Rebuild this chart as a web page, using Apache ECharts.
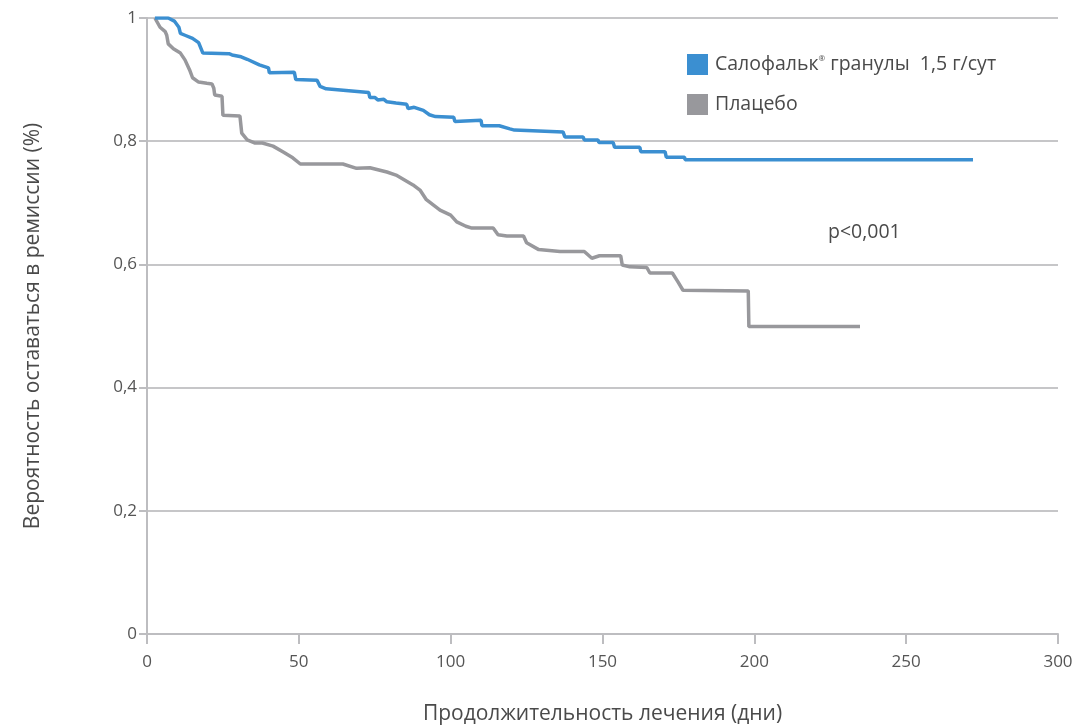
<!DOCTYPE html>
<html>
<head>
<meta charset="utf-8">
<script src="https://cdn.jsdelivr.net/npm/echarts@6/dist/echarts.min.js"></script>
<style>
  html, body { margin: 0; padding: 0; background: #fff; }
  #chart { width: 1079px; height: 727px; }
</style>
</head>
<body>
<div id="chart"></div>
<script>
// --- Datos: [día, probabilidad] ---
const salofalkData = [
    [2.6, 1.0], [7, 1.0], [9, 0.995], [10.5, 0.985], [11, 0.975], [12.5, 0.972], [15, 0.967],
    [17, 0.96], [18.4, 0.943], [27, 0.942], [28, 0.94], [31, 0.937], [33, 0.933], [37, 0.924],
    [40, 0.919], [40.3, 0.911], [48.5, 0.912], [49, 0.9], [56, 0.899], [57, 0.889], [59, 0.885],
    [73, 0.879], [73.4, 0.871], [75, 0.871], [76, 0.867], [78, 0.868], [79, 0.864], [82, 0.862],
    [85.5, 0.86], [86, 0.853], [88, 0.855], [91, 0.85], [93, 0.843], [95, 0.84], [101, 0.839],
    [101.4, 0.832], [110, 0.834], [110.3, 0.825], [116, 0.825], [119.5, 0.82], [121, 0.818],
    [137, 0.815], [137.6, 0.807], [143.6, 0.807], [144, 0.802], [148.5, 0.802], [148.8, 0.798],
    [153.5, 0.798], [154, 0.79], [162.3, 0.79], [162.6, 0.783], [170.6, 0.783], [171, 0.774],
    [177, 0.774], [177.2, 0.77], [272, 0.77]
];
const placeboData = [
    [2.6, 1.0], [4.3, 0.985], [6, 0.978], [6.5, 0.972], [7, 0.958], [8.7, 0.95], [11, 0.943],
    [12.5, 0.932], [14, 0.916], [15, 0.903], [17, 0.896], [19.7, 0.894], [21.4, 0.893], [22, 0.886],
    [22.3, 0.875], [24.7, 0.873], [25, 0.842], [30.6, 0.841], [31.2, 0.813], [33, 0.802],
    [35.6, 0.797], [38, 0.797], [41.5, 0.792], [45, 0.782], [48, 0.773], [50.5, 0.763],
    [64.5, 0.763], [69, 0.756], [73.4, 0.757], [79, 0.75], [82, 0.745], [87.6, 0.729], [90, 0.72],
    [92, 0.705], [96.5, 0.688], [100, 0.68], [102, 0.669], [105, 0.662], [107, 0.659], [114, 0.659],
    [115.6, 0.648], [118.5, 0.646], [124, 0.646], [125, 0.635], [129, 0.624], [136, 0.621],
    [144, 0.621], [146.5, 0.61], [149, 0.614], [156, 0.614], [156.5, 0.599], [159, 0.596],
    [164.6, 0.595], [165.6, 0.586], [173, 0.586], [174.8, 0.572], [176.5, 0.558], [198, 0.557],
    [198.2, 0.499], [234.8, 0.499]
];
const seriesNames = ['Салофальк гранулы  1,5 г/сут', 'Плацебо'];
const xTicks = [0, 50, 100, 150, 200, 250, 300];
const yTicks = [0, 0.2, 0.4, 0.6, 0.8, 1];

const textColor = '#4a4a4a';
const axisColor = '#bdbdc0';
const fontFamily = '"Open Sans", "Noto Sans", sans-serif';

const chart = echarts.init(document.getElementById('chart'));
chart.setOption({
    animation: false,
    backgroundColor: '#fff',
    textStyle: { fontFamily: fontFamily },
    grid: { left: 147, right: 21, top: 18, bottom: 93, outerBoundsMode: 'none', containLabel: false },
    legend: {
        orient: 'vertical',
        left: 682,
        top: 49,
        itemWidth: 21,
        itemHeight: 21,
        itemGap: 19,
        icon: 'rect',
        data: seriesNames,
        formatter: function (name) {
            if (name === seriesNames[0]) return 'Салофальк{sup|®} гранулы  1,5 г/сут';
            return name;
        },
        textStyle: {
            color: textColor,
            fontSize: 19.5,
            fontFamily: fontFamily,
            padding: [0, 0, 0, 2],
            rich: {
                sup: { fontSize: 8, verticalAlign: 'top', padding: [0, 0, 8, 0], color: textColor }
            }
        }
    },
    graphic: [{
        type: 'text',
        left: 828,
        top: 222,
        style: { text: 'p<0,001', fill: textColor, fontSize: 19.5, fontFamily: fontFamily }
    }],
    xAxis: {
        type: 'value',
        min: xTicks[0],
        max: xTicks[xTicks.length - 1],
        interval: 50,
        name: 'Продолжительность лечения (дни)',
        nameLocation: 'middle',
        nameGap: 70,
        nameTextStyle: { color: textColor, fontSize: 21, fontFamily: fontFamily },
        axisLine: { show: true, lineStyle: { color: axisColor, width: 2 } },
        axisTick: { show: true, length: 10, lineStyle: { color: axisColor, width: 2 } },
        axisLabel: { color: '#555', fontSize: 17, margin: 20 },
        splitLine: { show: false }
    },
    yAxis: {
        type: 'value',
        min: yTicks[0],
        max: yTicks[yTicks.length - 1],
        interval: 0.2,
        name: 'Вероятность оставаться в ремиссии (%)',
        nameLocation: 'middle',
        nameGap: 103,
        nameTextStyle: { color: textColor, fontSize: 21, fontFamily: fontFamily },
        axisLine: { show: true, lineStyle: { color: axisColor, width: 2 } },
        axisTick: { show: true, length: 8, lineStyle: { color: axisColor, width: 2 } },
        axisLabel: {
            color: '#555',
            fontSize: 17,
            margin: 10,
            formatter: function (v) { return String(+v.toFixed(1)).replace('.', ','); }
        },
        splitLine: { show: true, lineStyle: { color: '#c6c6c8', width: 2 } }
    },
    series: [
        {
            name: seriesNames[0],
            type: 'line',
            data: salofalkData,
            showSymbol: false,
            color: '#3b8fd1',
            lineStyle: { width: 3.5, color: '#3b8fd1' },
            z: 3
        },
        {
            name: seriesNames[1],
            type: 'line',
            data: placeboData,
            showSymbol: false,
            color: '#98989c',
            lineStyle: { width: 3.5, color: '#98989c' },
            z: 2
        }
    ]
});
</script>
</body>
</html>
